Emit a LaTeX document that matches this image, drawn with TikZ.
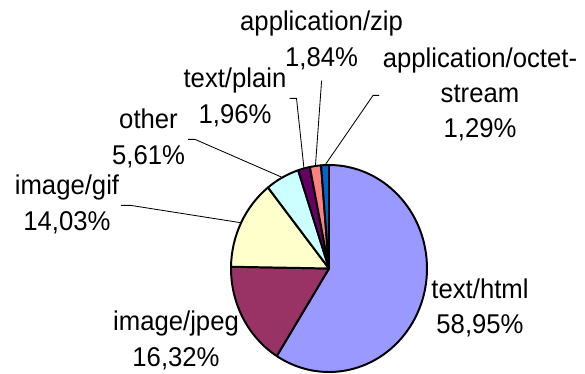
\documentclass[tikz,border=0pt]{standalone}
\usepackage{fontspec}
\setmainfont{Liberation Sans}[FakeStretch=0.947]
\usepackage{tikz}
\definecolor{htmlcolor}{RGB}{153, 153, 255}
\definecolor{jpegcolor}{RGB}{153, 51, 102}
\definecolor{gifcolor}{RGB}{255, 255, 204}
\definecolor{othercolor}{RGB}{204, 255, 255}
\definecolor{plaincolor}{RGB}{102, 0, 102}
\definecolor{zipcolor}{RGB}{255, 128, 128}
\definecolor{octetcolor}{RGB}{0, 102, 204}

\begin{document}
\begin{tikzpicture}[
    slice/.style={draw, line width=1.4pt, line join=round},
    lbl/.style={align=center, inner sep=0pt, font=\fontsize{19.3}{25.2}\selectfont},
    leader/.style={line width=0.6pt}
]
\useasboundingbox (0,0) rectangle (14.625,9.35);

% Pie centre
\coordinate (c) at (8.225,2.6375);

% Slices, clockwise from the top
\filldraw[slice, fill=htmlcolor] (c) -- ++(90:2.45 and 2.5875) arc[start angle=90, end angle=-122.22, x radius=2.45, y radius=2.5875] -- cycle;
\filldraw[slice, fill=jpegcolor] (c) -- ++(-122.22:2.45 and 2.5875) arc[start angle=-122.22, end angle=-180.972, x radius=2.45, y radius=2.5875] -- cycle;
\filldraw[slice, fill=gifcolor] (c) -- ++(-180.972:2.45 and 2.5875) arc[start angle=-180.972, end angle=-231.48, x radius=2.45, y radius=2.5875] -- cycle;
\filldraw[slice, fill=othercolor] (c) -- ++(-231.48:2.45 and 2.5875) arc[start angle=-231.48, end angle=-251.676, x radius=2.45, y radius=2.5875] -- cycle;
\filldraw[slice, fill=plaincolor] (c) -- ++(-251.676:2.45 and 2.5875) arc[start angle=-251.676, end angle=-258.732, x radius=2.45, y radius=2.5875] -- cycle;
\filldraw[slice, fill=zipcolor] (c) -- ++(-258.732:2.45 and 2.5875) arc[start angle=-258.732, end angle=-265.356, x radius=2.45, y radius=2.5875] -- cycle;
\filldraw[slice, fill=octetcolor] (c) -- ++(-265.356:2.45 and 2.5875) arc[start angle=-265.356, end angle=-270, x radius=2.45, y radius=2.5875] -- cycle;

% Points on the rim where the leaders end
\path (c) ++(153.774:2.45 and 2.5875) coordinate (gifedge);
\path (c) ++(118.422:2.45 and 2.5875) coordinate (otheredge);
\path (c) ++(104.796:2.45 and 2.5875) coordinate (plainedge);
\path (c) ++(97.956:2.45 and 2.5875) coordinate (zipedge);
\path (c) ++(92.322:2.45 and 2.5875) coordinate (octetedge);

% Labels
\node[lbl] (html) at (12.0, 1.6275) {\strut text/html\\\strut 58,95\%};
\node[lbl] (jpeg) at (4.4, 0.815) {\strut image/jpeg\\\strut 16,32\%};
\node[lbl] (gif) at (1.675, 4.215) {\strut image/gif\\\strut 14,03\%};
\node[lbl] (other) at (3.7125, 5.865) {\strut other\\\strut 5,61\%};
\node[lbl] (plain) at (5.875, 6.89) {\strut text/plain\\\strut 1,96\%};
\node[lbl] (zip) at (8.04, 8.315) {\strut application/zip\\\strut 1,84\%};
\node[lbl] (octet) at (12.0, 6.965) {\strut application/octet-\\\strut stream\\\strut 1,29\%};

% Leader lines
\draw[leader] ([xshift=1pt]gif.east) -- ++(0.25,0) -- (gifedge);
\draw[leader] ([xshift=2pt]other.east) -- ++(0.175,0) -- (otheredge);
\draw[leader] ([xshift=2pt]plain.east) -- ++(0.175,0) -- (plainedge);
\draw[leader] ([yshift=-2.5pt]zip.south) -- (zipedge);
\draw[leader] ([xshift=-2.5pt]octet.west) -- ++(-0.15,0) -- (octetedge);

\end{tikzpicture}
\end{document}
